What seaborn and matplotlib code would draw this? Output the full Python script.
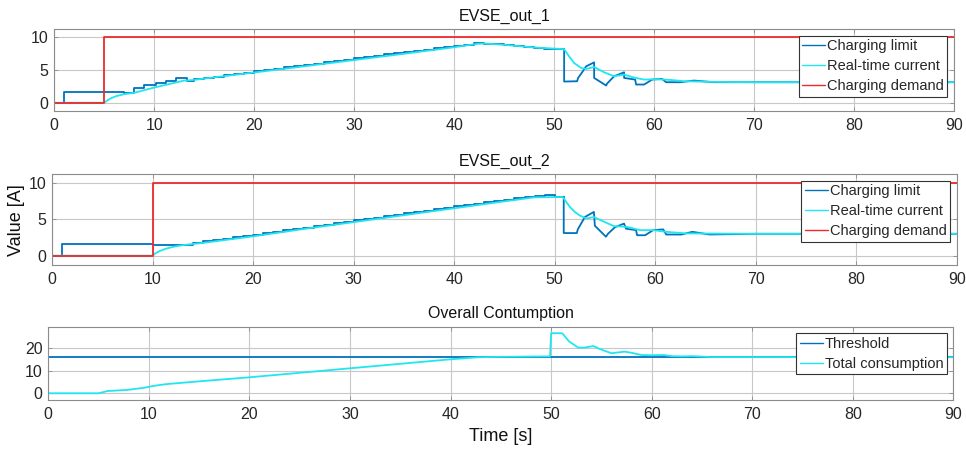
import numpy as np
import pandas as pd
import seaborn as sns
import matplotlib
matplotlib.use("Agg")
import matplotlib.pyplot as plt

# ---- EVSE_out_1 ----
# limit: staircase part (steps) then the transient after 51 s (straight segments)
lim1_t = [0, 1, 6, 7, 8, 9, 10.2, 11.2, 12.2, 13.3,
          14, 15, 16, 17, 18, 19, 20, 21, 22, 23, 24, 25, 26, 27, 28, 29, 30,
          31, 32, 33, 34, 35, 36, 37, 38, 39, 40, 41, 42,
          43, 44, 45, 46, 47, 48, 49, 50, 51]
lim1_v = [0, 1.6, 1.55, 1.45, 2.3, 2.75, 3.0, 3.3, 3.75, 3.3,
          3.6, 3.8, 3.95, 4.15, 4.35, 4.55, 4.75, 4.95, 5.15, 5.35, 5.55, 5.75, 5.9, 6.1, 6.3, 6.5, 6.7,
          6.9, 7.1, 7.3, 7.45, 7.65, 7.85, 8.0, 8.2, 8.4, 8.6, 8.8, 9.05,
          8.95, 8.85, 8.75, 8.6, 8.45, 8.3, 8.15, 8.1, 8.1]
lim1b_t = [51, 51, 52.3, 52.4, 52.8, 53.2, 54.0, 54.0, 55.2, 55.3, 56.0, 57.0, 57.0, 58.1, 58.2,
           59.0, 59.8, 60.8, 61.2, 62.6, 64.0, 66, 90]
lim1b_v = [8.1, 3.2, 3.25, 3.75, 4.6, 5.5, 6.1, 3.75, 2.6, 2.9, 4.0, 4.6, 3.75, 3.5, 2.75,
           2.75, 3.5, 3.6, 3.1, 3.1, 3.35, 3.1, 3.1]

cur1_t = [0, 5, 5.3, 5.7, 6.2, 7, 8, 9, 10, 11, 12, 13, 14, 15, 20, 25, 30, 35, 40,
          42.3, 43, 45, 48, 51, 51.5, 52, 52.7, 53.2, 54, 55, 56, 57, 58, 59, 60, 61,
          62, 63, 66, 70, 90]
cur1_v = [0, 0, 0.35, 0.7, 1.0, 1.3, 1.5, 1.9, 2.3, 2.65, 3.0, 3.35, 3.45, 3.65, 4.57, 5.5, 6.45, 7.4, 8.38,
          8.9, 8.95, 8.75, 8.35, 8.1, 7.0, 6.0, 5.25, 5.1, 5.4, 4.6, 4.0, 4.25, 3.8, 3.5, 3.55, 3.5,
          3.4, 3.25, 3.15, 3.1, 3.1]

dem1_t = [0, 5, 90]
dem1_v = [0, 10, 10]

# ---- EVSE_out_2 ----
lim2_t = [0, 1, 10, 11, 14,
          15, 16, 17, 18, 19, 20, 21, 22, 23, 24, 25, 26, 27, 28, 29, 30,
          31, 32, 33, 34, 35, 36, 37, 38, 39, 40, 41, 42, 43, 44, 45, 46,
          47, 48, 49, 50, 50.9]
lim2_v = [0, 1.55, 1.5, 1.45, 1.8,
          1.95, 2.15, 2.35, 2.5, 2.7, 2.9, 3.1, 3.3, 3.5, 3.65, 3.85, 4.05, 4.25, 4.45, 4.65, 4.85,
          5.0, 5.2, 5.4, 5.6, 5.8, 5.95, 6.15, 6.35, 6.55, 6.75, 6.9, 7.1, 7.3, 7.5, 7.65, 7.85,
          8.05, 8.2, 8.35, 8.1, 8.1]
lim2b_t = [50.9, 50.9, 52.2, 52.3, 53.0, 53.9, 54.0, 55.1, 55.3, 56.0, 56.9, 57.1, 58.1, 58.2,
           59.0, 59.8, 60.8, 61.1, 62.6, 63.7, 65.4, 70, 90]
lim2b_v = [8.1, 3.1, 3.1, 3.6, 5.3, 6.0, 4.1, 2.6, 3.0, 3.9, 4.4, 3.7, 3.5, 2.8,
           2.8, 3.5, 3.6, 2.9, 2.9, 3.27, 2.9, 3.0, 3.0]

cur2_t = [0, 10, 10.3, 10.7, 11.3, 12, 13, 14, 15, 20, 25, 30, 35, 40, 45, 48, 50.8,
          51.5, 52, 52.5, 53.2, 53.9, 55, 55.9, 57.2, 58.5, 59.8, 61.1, 63.1, 70, 90]
cur2_v = [0, 0, 0.35, 0.64, 0.95, 1.2, 1.45, 1.6, 1.75, 2.65, 3.65, 4.6, 5.55, 6.5, 7.45, 8.0, 8.05,
          6.7, 6.0, 5.5, 5.1, 5.3, 4.6, 4.05, 3.95, 3.5, 3.5, 3.27, 3.05, 3.0, 3.0]

dem2_t = [0, 10, 90]
dem2_v = [0, 10, 10]

# ---- Overall ----
thr_t = [0, 90]
thr_v = [16, 16]

tot_t = [0, 5, 5.9, 7.9, 9.6, 10.5, 11.6, 12.6, 15, 20, 25, 30, 35, 40, 42.7, 45, 49.9,
         50.0, 51.1, 51.8, 52.7, 53.3, 54.2, 55, 56, 57.3, 58, 59, 60, 61.2, 62, 63, 64,
         66, 70, 90]
tot_v = [0, 0, 1.0, 1.5, 2.5, 3.3, 4.0, 4.4, 5.3, 7.1, 9.1, 11.1, 13.1, 15.1, 16.0, 16.2, 16.4,
         26.7, 26.7, 23.0, 20.3, 20.3, 21.0, 19.4, 17.8, 18.5, 18.0, 17.0, 16.9, 17.0, 16.5, 16.4, 16.5,
         16.1, 16.1, 16.0]

c_lim = "#0072BD"
c_cur = "#1FE6F0"
c_dem = "#EE2A2A"

sns.set_theme(style="whitegrid")
plt.rcParams["font.family"] = ["Liberation Sans", "DejaVu Sans"]
plt.rcParams["grid.color"] = "#c8c8c8"
plt.rcParams["grid.linewidth"] = 0.8

fig = plt.figure(figsize=(9.66, 4.54), dpi=100)
ax1 = fig.add_axes([0.0562, 0.7555, 0.9314, 0.180])
ax2 = fig.add_axes([0.0541, 0.4152, 0.9362, 0.2015])
ax3 = fig.add_axes([0.0500, 0.1189, 0.9369, 0.1615])


def style(ax, ylim, yticks, title):
    ax.set_xlim(0, 90)
    ax.set_ylim(*ylim)
    ax.set_xticks(range(0, 91, 10))
    ax.set_yticks(yticks)
    ax.tick_params(direction="in", length=3, width=0.6, color="#8c8c8c", labelsize=11.5,
                   labelcolor="#262626", top=True, right=True, pad=5,
                   bottom=True, left=True)
    ax.tick_params(axis="y", pad=4)
    ax.set_title(title, fontsize=11.5, pad=6, color="#111111")
    for s in ax.spines.values():
        s.set_linewidth(0.8)
        s.set_color("#8c8c8c")
    ax.set_xlabel("")
    ax.set_ylabel("")


def legend(ax):
    leg = ax.legend(loc="upper right", fontsize=10.5, handlelength=1.6, handletextpad=0.1,
                    labelspacing=0.4, borderpad=0.25, borderaxespad=0.45,
                    fancybox=False, framealpha=1, edgecolor="#333333")
    leg.get_frame().set_linewidth(0.8)
    for ln in leg.get_lines():
        ln.set_linewidth(1.0)


for ax, lt, lv, lbt, lbv, ct, cv, dt, dv, ttl, ylim in [
        (ax1, lim1_t, lim1_v, lim1b_t, lim1b_v, cur1_t, cur1_v, dem1_t, dem1_v, "EVSE_out_1", (-1.25, 11.1)),
        (ax2, lim2_t, lim2_v, lim2b_t, lim2b_v, cur2_t, cur2_v, dem2_t, dem2_v, "EVSE_out_2", (-1.35, 11.2))]:
    sns.lineplot(x=lt, y=lv, ax=ax, color=c_lim, lw=1.3, drawstyle="steps-post",
                 estimator=None, sort=False, label="Charging limit")
    sns.lineplot(x=lbt, y=lbv, ax=ax, color=c_lim, lw=1.3, estimator=None, sort=False)
    sns.lineplot(x=ct, y=cv, ax=ax, color=c_cur, lw=1.3, estimator=None, sort=False,
                 label="Real-time current")
    sns.lineplot(x=dt, y=dv, ax=ax, color=c_dem, lw=1.3, drawstyle="steps-post",
                 estimator=None, sort=False, label="Charging demand")
    style(ax, ylim, [0, 5, 10], ttl)
    legend(ax)

sns.lineplot(x=thr_t, y=thr_v, ax=ax3, color=c_lim, lw=1.3, estimator=None, sort=False,
             label="Threshold")
sns.lineplot(x=tot_t, y=tot_v, ax=ax3, color=c_cur, lw=1.3, estimator=None, sort=False,
             label="Total consumption")
style(ax3, (-3.0, 29.6), [0, 10, 20], "Overall Contumption")
legend(ax3)

ax2.set_ylabel("Value [A]", fontsize=13, labelpad=3, color="#111111")
ax3.set_xlabel("Time [s]", fontsize=13, labelpad=4, color="#111111")

fig.savefig("out.png", dpi=100)
